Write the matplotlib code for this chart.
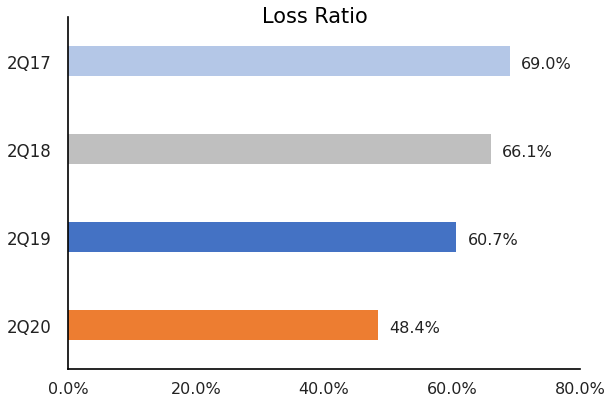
import matplotlib.pyplot as plt
import numpy as np

quarters = ["2Q17", "2Q18", "2Q19", "2Q20"]
loss_ratio = [69.0, 66.1, 60.7, 48.4]
bar_colors = ["#B4C7E7", "#BFBFBF", "#4472C4", "#ED7D31"]
xticks = [0, 20, 40, 60, 80]

plt.rcParams['font.family'] = ['DejaVu Sans']

fig = plt.figure(figsize=(6.11, 4.02), dpi=100)
ax = fig.add_axes([68/611, 32/402, 512/611, 352/402])

y = np.arange(len(quarters))
ax.barh(y, loss_ratio, height=0.35, color=bar_colors)
for yi, v in zip(y, loss_ratio):
    ax.annotate(f"{v:.1f}%", (v, yi), xytext=(8, -1.5), textcoords="offset points",
                va="center", ha="left", fontsize=11.5, color="#222222")

ax.set_ylim(3.5, -0.5)
ax.set_xlim(0, 80)
ax.set_yticks(y)
ax.set_yticklabels(quarters)
ax.set_xticks(xticks)
ax.set_xticklabels([f"{t:.1f}%" for t in xticks])
ax.tick_params(axis="both", length=0, labelsize=12, colors="#222222")
ax.tick_params(axis="y", pad=12)
ax.tick_params(axis="x", pad=9, labelsize=11.5)
for side in ["top", "right"]:
    ax.spines[side].set_visible(False)
for side in ["left", "bottom"]:
    ax.spines[side].set_color("black")
    ax.spines[side].set_linewidth(1.2)

fig.text(315/611, 1 - 17/402, "Loss Ratio", ha="center", va="center", fontsize=15, color="black")

fig.savefig("out.png", dpi=100)
